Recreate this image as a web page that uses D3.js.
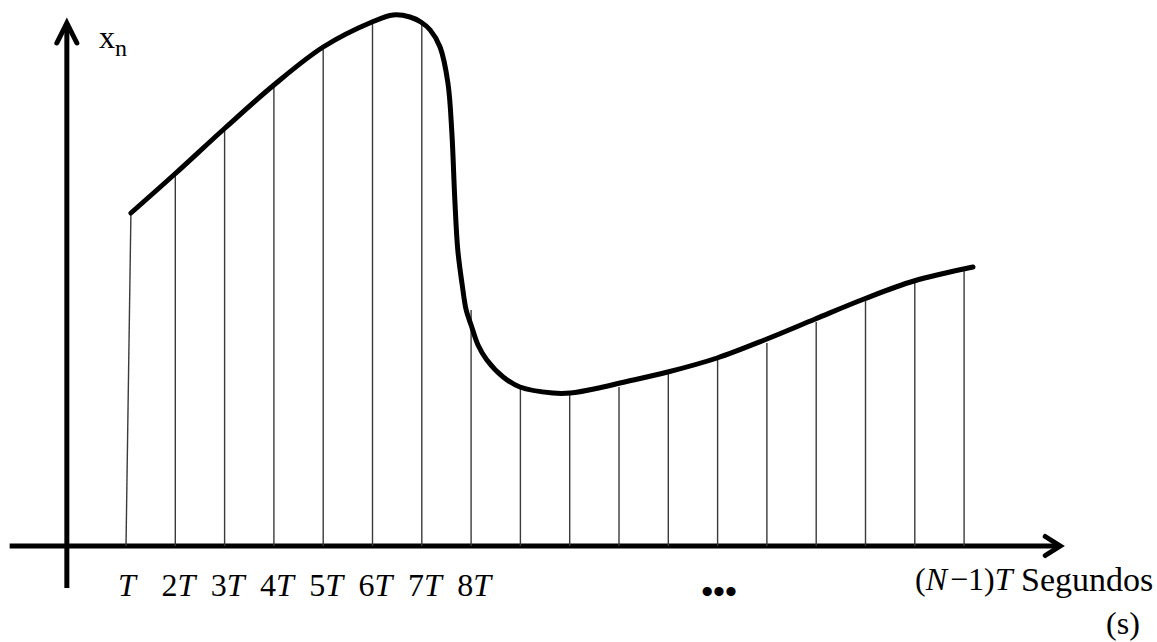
<!DOCTYPE html>
<html>
<head>
<meta charset="utf-8">
<script src="https://cdn.jsdelivr.net/npm/d3@7/dist/d3.min.js"></script>
<style>
  html, body { margin: 0; padding: 0; background: #fff; }
  svg { display: block; }
  text { font-family: "Liberation Serif", "Times New Roman", serif; fill: #000; }
</style>
</head>
<body>
<svg id="chart" width="1157" height="642"></svg>
<script>
// Sample instants n (in multiples of T) and the sampled amplitudes x[n]
const sampleIndex = [1, 2, 3, 4, 5, 6, 7, 8, 9, 10, 11, 12, 13, 14, 15, 16, 17, 18];
const sampleValues = [6.66, 7.44, 8.36, 9.22, 9.98, 10.46, 10.42, 4.72, 3.18, 3.02,
                      3.18, 3.48, 3.78, 4.06, 4.48, 4.90, 5.32, 5.50];

// Continuous signal x(t), t measured in units of T
const signalT = [1.10, 1.99, 3.01, 4.00, 5.00, 5.99, 6.42, 6.76, 6.98, 7.17, 7.37,
                 7.53, 7.61, 7.67, 7.73, 7.82, 7.90, 8.00, 8.14, 8.32, 8.65, 8.99,
                 9.66, 10.01, 10.68, 11.02, 11.99, 12.99, 14.00, 14.98, 15.97, 16.98, 18.18];
const signalX = [6.66, 7.44, 8.36, 9.22, 9.98, 10.48, 10.62, 10.58, 10.48, 10.32, 9.98,
                 9.26, 8.26, 6.92, 5.92, 5.22, 4.72, 4.42, 4.02, 3.72, 3.38, 3.18,
                 3.06, 3.06, 3.18, 3.26, 3.48, 3.76, 4.14, 4.54, 4.94, 5.30, 5.58];

// Tick labels under the first samples
const tickIndex = [1, 2, 3, 4, 5, 6, 7, 8];
const tickDigits = ["", "2", "3", "4", "5", "6", "7", "8"];

const svg = d3.select("#chart");

const x = d3.scaleLinear().domain([0, 19]).range([76.7, 1013.4]);
const y = d3.scaleLinear().domain([0, 10]).range([546, 46]);

// Axes with open arrow heads
const axisX0 = x(-1.36), axisX1 = x(19.95);
const axisYX = x(-0.2);
const axes = svg.append("g")
  .attr("stroke", "#000").attr("stroke-width", 5).attr("fill", "none");

axes.append("line")
  .attr("x1", axisX0).attr("y1", y(0)).attr("x2", axisX1 - 2).attr("y2", y(0));
axes.append("path")
  .attr("stroke-linecap", "round").attr("stroke-linejoin", "miter")
  .attr("d", `M${axisX1 - 15},${y(0) - 9.5} L${axisX1},${y(0)} L${axisX1 - 15},${y(0) + 9.5}`);

axes.append("line")
  .attr("x1", axisYX).attr("y1", 588).attr("x2", axisYX).attr("y2", y(10.46) + 2);
axes.append("path")
  .attr("stroke-linecap", "round").attr("stroke-linejoin", "miter")
  .attr("d", `M${axisYX - 10},${y(10.46) + 20} L${axisYX},${y(10.46)} L${axisYX + 10},${y(10.46) + 20}`);

// Sample stems: the first one rises to where the drawn signal begins
svg.append("g")
  .attr("stroke", "#3a3a3a").attr("stroke-width", 1.4)
  .selectAll("line")
  .data(sampleIndex.map((n, i) => ({ n, v: sampleValues[i] })))
  .join("line")
  .attr("x1", d => x(d.n))
  .attr("y1", y(0))
  .attr("x2", (d, i) => i === 0 ? x(signalT[0]) : x(d.n))
  .attr("y2", d => y(d.v));

// Continuous signal
const line = d3.line()
  .x(d => x(d[0]))
  .y(d => y(d[1]))
  .curve(d3.curveCatmullRom.alpha(0.5));

svg.append("path")
  .datum(signalT.map((t, i) => [t, signalX[i]]))
  .attr("fill", "none")
  .attr("stroke", "#000")
  .attr("stroke-width", 5)
  .attr("stroke-linecap", "round")
  .attr("stroke-linejoin", "round")
  .attr("d", line);

// Tick labels: digit upright, T italic
const ticks = svg.append("g").attr("font-size", 32).attr("text-anchor", "middle");
ticks.selectAll("text")
  .data(tickIndex.map((n, i) => ({ n, d: tickDigits[i] })))
  .join("text")
  .attr("x", d => x(d.n) + (d.d ? 3 : 1))
  .attr("y", 596)
  .each(function (d) {
    const t = d3.select(this);
    if (d.d) t.append("tspan").text(d.d);
    t.append("tspan").attr("font-style", "italic").text("T");
  });

// Last sample label (N − 1)T
const last = svg.append("text")
  .attr("font-size", 32)
  .attr("x", 915)
  .attr("y", 590);
last.append("tspan").text("(");
last.append("tspan").attr("font-style", "italic").text("N");
last.append("tspan").attr("dx", 3).text("\u2212");
last.append("tspan").text("1)");
last.append("tspan").attr("font-style", "italic").text("T");

// Units of the horizontal axis
svg.append("text").attr("font-size", 34).attr("x", 1021).attr("y", 591).text("Segundos");
svg.append("text").attr("font-size", 32).attr("text-anchor", "middle")
  .attr("x", 1123).attr("y", 634).text("(s)");

// Ellipsis for the omitted samples
svg.append("text").attr("font-size", 34).attr("font-weight", "bold")
  .attr("text-anchor", "middle").attr("x", 719).attr("y", 603).text("\u2022\u2022\u2022");

// Vertical axis label x_n
const yl = svg.append("text").attr("x", 99).attr("y", 48).attr("font-size", 32);
yl.append("tspan").text("x");
yl.append("tspan").attr("font-size", 24).attr("dy", 8).text("n");
</script>
</body>
</html>
